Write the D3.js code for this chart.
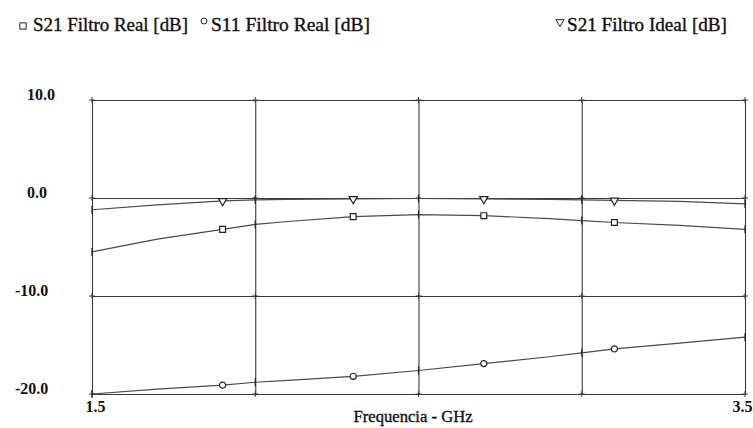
<!DOCTYPE html>
<html lang="pt">
<head>
<meta charset="UTF-8">
<title>Filtro S21 / S11</title>
<script src="https://d3js.org/d3.v7.min.js"></script>
<style>
  html, body { margin: 0; padding: 0; background: #fff; }
  svg text { font-family: "Liberation Serif", "Times New Roman", serif; fill: #111; }
  .heavy { stroke: #111; stroke-width: 0.35px; }
</style>
</head>
<body>
<svg id="chart" width="753" height="428"></svg>
<script>
// frequency points (GHz)
const freq = [1.5, 1.7, 1.9, 2.0, 2.1, 2.3, 2.5, 2.7, 2.9, 3.0, 3.1, 3.3, 3.5];
// series values in dB
const s21Real  = [-5.5, -4.2, -3.2, -2.7, -2.4, -1.9, -1.7, -1.8, -2.1, -2.3, -2.5, -2.8, -3.2];
const s11Real  = [-20.0, -19.5, -19.1, -18.8, -18.6, -18.2, -17.6, -16.9, -16.2, -15.8, -15.4, -14.8, -14.2];
const s21Ideal = [-1.2, -0.7, -0.3, -0.2, -0.15, -0.1, -0.05, -0.1, -0.15, -0.2, -0.25, -0.35, -0.6];
// where the symbols sit on the curves
const markerFreq = [1.9, 2.3, 2.7, 3.1];
// gridlines and tick labels
const xTicks = [1.5, 2.0, 2.5, 3.0, 3.5];
const xLabels = ["1.5", "", "", "", "3.5"];
const yTicks = [10, 0, -10, -20];
const yLabels = ["10.0", "0.0", "-10.0", "-20.0"];
const legendNames = ["S21 Filtro Real [dB]", "S11 Filtro Real [dB]", "S21 Filtro Ideal [dB]"];

const svg = d3.select("#chart");
const margin = {left: 92, right: 8, top: 100, bottom: 34};
const W = 753, H = 428;

const x = d3.scaleLinear().domain([1.5, 3.5]).range([margin.left, W - margin.right]);
const y = d3.scaleLinear().domain([-20, 10]).range([H - margin.bottom, margin.top]);

const LINE = "#4a4a4a";
const GRID = "#3a3a3a";

// vertical gridlines
svg.append("g")
    .attr("transform", `translate(0, ${y(-20)})`)
    .call(d3.axisBottom(x).tickValues(xTicks).tickSize(-(y(-20) - y(10))).tickPadding(8)
        .tickFormat((d, i) => xLabels[i]))
    .call(g => g.select(".domain").remove())
    .call(g => g.selectAll(".tick line").attr("stroke", GRID).attr("stroke-width", 1.1))
    .call(g => g.selectAll(".tick text")
        .style("font-size", "16px").style("font-weight", "bold")
        .attr("dy", "0.6em")
        .attr("text-anchor", (d, i) => i === 0 ? "start" : "end")
        .attr("dx", (d, i) => i === 0 ? -7 : 7));

// horizontal gridlines
svg.append("g")
    .attr("transform", `translate(${x(1.5)}, 0)`)
    .call(d3.axisLeft(y).tickValues(yTicks).tickSize(-(x(3.5) - x(1.5))).tickFormat((d, i) => yLabels[i]))
    .call(g => g.select(".domain").remove())
    .call(g => g.selectAll(".tick text")
        .style("font-size", "16px").style("font-weight", "bold")
        .attr("text-anchor", "start")
        .attr("x", (d) => d < 0 ? -77 : -65)
        .attr("dy", "-0.05em"))
    .call(g => g.selectAll(".tick line").attr("stroke", GRID).attr("stroke-width", 1.1));

// small crosses at grid intersections
const cross = svg.append("g").attr("stroke", GRID).attr("stroke-width", 1);
xTicks.forEach(fx => yTicks.forEach(fy => {
    cross.append("line").attr("x1", x(fx)).attr("x2", x(fx)).attr("y1", y(fy) - 3).attr("y2", y(fy) + 3);
    cross.append("line").attr("x1", x(fx) - 3).attr("x2", x(fx) + 3).attr("y1", y(fy)).attr("y2", y(fy));
}));

// x axis title
svg.append("text")
    .attr("class", "heavy")
    .attr("x", 413).attr("y", 422)
    .attr("text-anchor", "middle")
    .attr("textLength", 119).attr("lengthAdjust", "spacingAndGlyphs")
    .style("font-size", "17px")
    .text("Frequencia - GHz");

const series = [
    {values: s21Real, symbol: d3.symbolSquare, size: 34},
    {values: s11Real, symbol: d3.symbolCircle, size: 30},
    {values: s21Ideal, symbol: d3.symbolTriangle, size: 30, flip: true}
];

const line = d3.line().x(d => x(d[0])).y(d => y(d[1]));

series.forEach(s => {
    const pts = freq.map((f, i) => [f, s.values[i]]);
    svg.append("path")
        .datum(pts)
        .attr("fill", "none")
        .attr("stroke", LINE)
        .attr("stroke-width", 1.2)
        .attr("d", line);

    // little vertical ticks where the curve crosses a gridline
    xTicks.forEach(f => {
        const i = freq.indexOf(f);
        svg.append("line")
            .attr("x1", x(f)).attr("x2", x(f))
            .attr("y1", y(s.values[i]) - 4).attr("y2", y(s.values[i]) + 4)
            .attr("stroke", "#222").attr("stroke-width", 1.2);
    });

    markerFreq.forEach(f => {
        const i = freq.indexOf(f);
        svg.append("path")
            .attr("d", d3.symbol().type(s.symbol).size(s.size)())
            .attr("transform", `translate(${x(f)}, ${y(s.values[i])})` + (s.flip ? " rotate(180)" : ""))
            .attr("fill", "#fff")
            .attr("stroke", "#222")
            .attr("stroke-width", 1.2);
    });
});

// legend
const legendPos = [
    {sx: 23, sy: 26, tx: 33, w: 155},
    {sx: 204, sy: 21, tx: 211, w: 159},
    {sx: 560, sy: 22, tx: 567, w: 160}
];
legendNames.forEach((name, k) => {
    const p = legendPos[k];
    const s = series[k];
    svg.append("path")
        .attr("d", d3.symbol().type(s.symbol).size(k === 0 ? 40 : 28)())
        .attr("transform", `translate(${p.sx}, ${p.sy})` + (s.flip ? " rotate(180)" : ""))
        .attr("fill", "#fff")
        .attr("stroke", "#222")
        .attr("stroke-width", 1);
    svg.append("text")
        .attr("class", "heavy")
        .attr("x", p.tx).attr("y", 31)
        .attr("textLength", p.w).attr("lengthAdjust", "spacingAndGlyphs")
        .style("font-size", "18px")
        .text(name);
});
</script>
</body>
</html>
